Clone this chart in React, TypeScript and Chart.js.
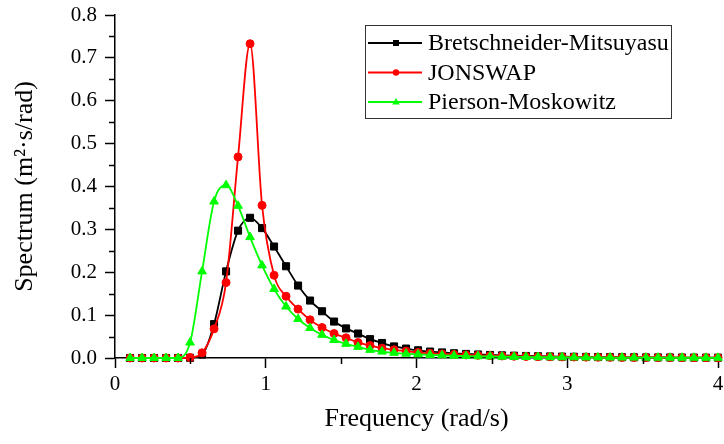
import React, { useEffect, useRef } from 'react';
import { Chart, registerables } from 'chart.js';

Chart.register(...registerables);

// Frequency grid (rad/s)
const freq = [
  0.1, 0.1796, 0.2592, 0.3388, 0.4184, 0.498, 0.5776, 0.6571, 0.7367, 0.8163,
  0.8959, 0.9755, 1.0551, 1.1347, 1.2143, 1.2939, 1.3735, 1.4531, 1.5327, 1.6122,
  1.6918, 1.7714, 1.851, 1.9306, 2.0102, 2.0898, 2.1694, 2.249, 2.3286, 2.4082,
  2.4878, 2.5673, 2.6469, 2.7265, 2.8061, 2.8857, 2.9653, 3.0449, 3.1245, 3.2041,
  3.2837, 3.3633, 3.4429, 3.5224, 3.602, 3.6816, 3.7612, 3.8408, 3.9204, 4.0,
];

const bretschneider = [
  0, 0, 0, 0, 0, 0.0005, 0.008, 0.079, 0.202, 0.297,
  0.327, 0.303, 0.26, 0.214, 0.169, 0.134, 0.109, 0.085, 0.069, 0.057,
  0.044, 0.035, 0.027, 0.022, 0.018, 0.015, 0.013, 0.011, 0.0095, 0.0082,
  0.0071, 0.0062, 0.0054, 0.0047, 0.0041, 0.0036, 0.0032, 0.0028, 0.0025, 0.0022,
  0.002, 0.0018, 0.0016, 0.0014, 0.0013, 0.0012, 0.0011, 0.001, 0.0009, 0.0008,
];

const jonswap = [
  0, 0, 0, 0, 0, 0.001, 0.012, 0.068, 0.176, 0.469,
  0.733, 0.356, 0.193, 0.144, 0.114, 0.089, 0.071, 0.057, 0.047, 0.036,
  0.029, 0.023, 0.019, 0.016, 0.013, 0.011, 0.0095, 0.0082, 0.0071, 0.0062,
  0.0054, 0.0047, 0.0041, 0.0036, 0.0032, 0.0028, 0.0025, 0.0022, 0.002, 0.0018,
  0.0016, 0.0014, 0.0013, 0.0012, 0.0011, 0.001, 0.0009, 0.0008, 0.0007, 0.0006,
];

const piersonMoskowitz = [
  0, 0, 0, 0, 0, 0.036, 0.202, 0.365, 0.403, 0.355,
  0.282, 0.216, 0.161, 0.12, 0.091, 0.07, 0.054, 0.042, 0.033, 0.026,
  0.019, 0.015, 0.012, 0.01, 0.0085, 0.0072, 0.0062, 0.0053, 0.0046, 0.004,
  0.0035, 0.0031, 0.0027, 0.0024, 0.0021, 0.0019, 0.0017, 0.0015, 0.0013, 0.0012,
  0.0011, 0.001, 0.0009, 0.0008, 0.0007, 0.0007, 0.0006, 0.0006, 0.0005, 0.0005,
];

const seriesNames = ['Bretschneider-Mitsuyasu', 'JONSWAP', 'Pierson-Moskowitz'];
const seriesColors = ['#000000', '#ff0000', '#00ff00'];
const seriesMarkers = ['rect', 'circle', 'triangle'];
const seriesValues = [bretschneider, jonswap, piersonMoskowitz];

const xMinorTicks = [0.5, 1.5, 2.5, 3.5];
const yMinorTicks = [0.05, 0.15, 0.25, 0.35, 0.45, 0.55, 0.65, 0.75];

const xTitle = 'Frequency (rad/s)';
const yTitle = 'Spectrum (m\u00B2\u00B7s/rad)';

const FONT = "'Liberation Serif', 'Times New Roman', serif";

const markerRadius = [5, 4, 5];

const minorTickPlugin = {
  id: 'minorTicks',
  afterDraw(chart: any) {
    const { ctx } = chart;
    const xs = chart.scales.x;
    const ys = chart.scales.y;
    ctx.save();
    ctx.strokeStyle = '#000';
    ctx.lineWidth = 1.5;
    ctx.beginPath();
    xMinorTicks.forEach((v) => {
      const px = Math.round(xs.getPixelForValue(v)) + 0.5;
      ctx.moveTo(px, xs.top);
      ctx.lineTo(px, xs.top + 6);
    });
    yMinorTicks.forEach((v) => {
      const py = Math.round(ys.getPixelForValue(v)) + 0.5;
      ctx.moveTo(ys.right - 6, py);
      ctx.lineTo(ys.right, py);
    });
    ctx.stroke();
    ctx.restore();
  },
};

const boxLegendPlugin = {
  id: 'boxLegend',
  afterDraw(chart: any) {
    const { ctx } = chart;
    const left = 365;
    const top = 25;
    const w = 306;
    const h = 93;
    ctx.save();
    ctx.strokeStyle = '#333';
    ctx.lineWidth = 1;
    ctx.strokeRect(left + 0.5, top + 0.5, w, h);
    ctx.font = `24px ${FONT}`;
    ctx.textBaseline = 'middle';
    ctx.textAlign = 'left';
    chart.data.datasets.forEach((ds: any, i: number) => {
      const y = top + 18 + i * 29.5;
      ctx.strokeStyle = ds.borderColor;
      ctx.lineWidth = 1.8;
      ctx.beginPath();
      ctx.moveTo(left + 3, y);
      ctx.lineTo(left + 57, y);
      ctx.stroke();
      ctx.fillStyle = ds.borderColor;
      const style = ds.pointStyle;
      const cx = left + 31;
      ctx.beginPath();
      if (style === 'rect') {
        ctx.rect(cx - 3, y - 3, 6, 6);
      } else if (style === 'circle') {
        ctx.arc(cx, y, 3.2, 0, Math.PI * 2);
      } else {
        ctx.moveTo(cx, y - 4);
        ctx.lineTo(cx + 3.8, y + 2.6);
        ctx.lineTo(cx - 3.8, y + 2.6);
        ctx.closePath();
      }
      ctx.fill();
      ctx.fillStyle = '#000';
      ctx.fillText(ds.label, left + 63, y + 1);
    });
    ctx.restore();
  },
};

export default function App() {
  const canvasRef = useRef<HTMLCanvasElement | null>(null);

  useEffect(() => {
    if (!canvasRef.current) return;
    const datasets = seriesNames.map((name, i) => ({
      label: name,
      data: freq.map((f, k) => ({ x: f, y: seriesValues[i][k] })),
      borderColor: seriesColors[i],
      backgroundColor: seriesColors[i],
      pointBackgroundColor: seriesColors[i],
      pointBorderColor: seriesColors[i],
      pointBorderWidth: 1,
      pointStyle: seriesMarkers[i],
      pointRadius: markerRadius[i],
      borderWidth: 1.8,
      cubicInterpolationMode: 'monotone',
      fill: false,
      clip: false,
      order: 2 - i,
    }));

    const chart = new Chart(canvasRef.current, {
      type: 'line',
      data: { datasets } as any,
      plugins: [minorTickPlugin, boxLegendPlugin],
      options: {
        animation: false,
        responsive: true,
        maintainAspectRatio: false,
        layout: { padding: { top: 15, right: 4, bottom: 0, left: 0 } },
        plugins: {
          legend: { display: false },
          tooltip: { enabled: false },
        },
        scales: {
          x: {
            type: 'linear',
            min: 0,
            max: 4,
            ticks: {
              stepSize: 1,
              color: '#000',
              font: { family: FONT, size: 21 },
              padding: 4,
              maxRotation: 0,
              callback: (v: any) => String(v),
            },
            grid: {
              drawOnChartArea: false,
              drawTicks: true,
              tickLength: 10,
              tickWidth: 1.5,
              tickColor: '#000',
            },
            border: { display: true, color: '#000', width: 1.5 },
            title: {
              display: true,
              text: xTitle,
              color: '#000',
              font: { family: FONT, size: 26 },
              padding: { top: 0, bottom: 9 },
            },
            afterFit: (s: any) => {
              s.height = 86;
              s.paddingLeft = 0;
              s.paddingRight = 0;
            },
          },
          y: {
            type: 'linear',
            min: 0,
            max: 0.8,
            ticks: {
              stepSize: 0.1,
              color: '#000',
              font: { family: FONT, size: 21 },
              padding: 8,
              callback: (v: any) => Number(v).toFixed(1),
            },
            grid: {
              drawOnChartArea: false,
              drawTicks: true,
              tickLength: 10,
              tickWidth: 1.5,
              tickColor: '#000',
            },
            border: { display: true, color: '#000', width: 1.5 },
            title: {
              display: true,
              text: yTitle,
              color: '#000',
              font: { family: FONT, size: 26 },
              padding: { top: 10, bottom: 0 },
            },
            afterFit: (s: any) => {
              s.width = 115;
              s.paddingTop = 0;
              s.paddingBottom = 0;
            },
          },
        },
      } as any,
    });
    return () => chart.destroy();
  }, []);

  return (
    <div style={{ position: 'fixed', left: 0, top: 0, width: 724, height: 444, background: '#fff' }}>
      <canvas ref={canvasRef} />
    </div>
  );
}
